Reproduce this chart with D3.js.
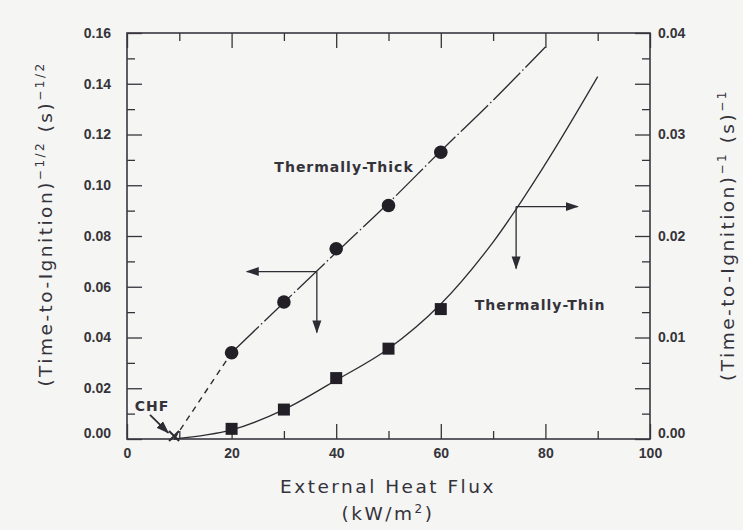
<!DOCTYPE html>
<html lang="en">
<head>
<meta charset="UTF-8">
<title>Time to ignition vs external heat flux</title>
<style>
  body { margin: 0; background: #f5f5f3; }
  svg { display: block; }
  .tick text { font-family: "Liberation Sans", Arial, sans-serif; font-weight: bold; font-size: 14px; fill: #36343a; }
  .tick line { stroke: #36343a; stroke-width: 1.3; }
  .axis-title { font-family: "DejaVu Sans", sans-serif; font-size: 18.5px; letter-spacing: 2.5px; fill: #34323a; }
  .note { font-family: "DejaVu Sans", sans-serif; font-weight: bold; font-size: 14px; letter-spacing: 1px; fill: #34323a; }
</style>
</head>
<body>
<svg id="chart" width="743" height="530"></svg>
<script src="https://d3js.org/d3.v7.min.js"></script>
<script>
const heatFlux = [20, 30, 40, 50, 60];
const thickValues = [0.034, 0.054, 0.075, 0.092, 0.113];       // (tig)^-1/2, left axis
const thinValues = [0.0010, 0.0029, 0.0060, 0.0089, 0.0128];   // (tig)^-1, right axis
const chf = 9;

// the two fitted curves
const thickFitFlux = [20, 30, 40, 50, 60, 70, 80];
const thickFitValues = [0.034, 0.0538, 0.0735, 0.093, 0.1135, 0.1335, 0.1545];
const thinFitFlux = [9, 20, 30, 40, 50, 60, 70, 80, 90];
const thinFitValues = [0, 0.0009, 0.0029, 0.0058, 0.0089, 0.0133, 0.0194, 0.0271, 0.0357];

// ticks
const xMajor = [0, 20, 40, 60, 80, 100];
const xMinor = [10, 30, 50, 70, 90];
const leftMajor = [0, 0.02, 0.04, 0.06, 0.08, 0.10, 0.12, 0.14, 0.16];
const leftMinor = [0.01, 0.03, 0.05, 0.07, 0.09, 0.11, 0.13, 0.15];
const rightLabels = [0, 0.01, 0.02, 0.03, 0.04];
const rightMajor = [0, 0.005, 0.01, 0.015, 0.02, 0.025, 0.03, 0.035, 0.04];
const rightMinor = [0.0025, 0.0075, 0.0125, 0.0175, 0.0225, 0.0275, 0.0325, 0.0375];

// annotation arrows
const thickArrow = [36.3, 0.066, 22.9, 0.042];   // corner x, corner y, left tip x, down tip y
const thinArrow = [74.4, 0.0229, 86.2, 0.0168];  // corner x, corner y, right tip x, down tip y
const chfArrow = [4.4, 0.0095, 7.9, 0.0024];

const svg = d3.select("#chart");
const ink = "#2e2c33";

const x = d3.scaleLinear().domain([0, 100]).range([127, 650]);
const yL = d3.scaleLinear().domain([0, 0.16]).range([439, 33]);
const yR = d3.scaleLinear().domain([0, 0.04]).range([439, 33]);

const fmt = d3.format(".2f");

// arrow head marker
svg.append("defs").append("marker")
    .attr("id", "head")
    .attr("markerUnits", "userSpaceOnUse")
    .attr("markerWidth", 14).attr("markerHeight", 10)
    .attr("viewBox", "0 -5 14 10")
    .attr("refX", 12).attr("refY", 0)
    .attr("orient", "auto")
  .append("path")
    .attr("d", "M0,-4.5L13,0L0,4.5Z")
    .attr("fill", ink);

// axes: majors carry the labels, minors are shorter
function addAxis(axis, transform, cls) {
    const g = svg.append("g").attr("class", cls).attr("transform", transform).call(axis);
    g.select(".domain").remove();
    return g;
}

addAxis(d3.axisBottom(x).tickValues(xMajor).tickSize(-15).tickPadding(9).tickFormat(d3.format("d")), "translate(0,439)", "xb");
addAxis(d3.axisBottom(x).tickValues(xMinor).tickSize(-8).tickFormat(""), "translate(0,439)", "xbm");
addAxis(d3.axisTop(x).tickValues(xMajor).tickSize(-15).tickFormat(""), "translate(0,33)", "xt");
addAxis(d3.axisTop(x).tickValues(xMinor).tickSize(-8).tickFormat(""), "translate(0,33)", "xtm");

addAxis(d3.axisLeft(yL).tickValues(leftMajor).tickSize(-15).tickPadding(16).tickFormat(fmt), "translate(127,0)", "yl");
addAxis(d3.axisLeft(yL).tickValues(leftMinor).tickSize(-8).tickFormat(""), "translate(127,0)", "ylm");

addAxis(d3.axisRight(yR).tickValues(rightMajor).tickSize(-15)
    .tickFormat(d => rightLabels.some(v => Math.abs(v - d) < 1e-9) ? fmt(d) : ""), "translate(650,0)", "yr")
    .selectAll("text").attr("x", 8);
addAxis(d3.axisRight(yR).tickValues(rightMinor).tickSize(-8).tickFormat(""), "translate(650,0)", "yrm");

// the zero labels sit a little higher than their tick
svg.selectAll(".yl .tick, .yr .tick").filter(d => d === 0).select("text").attr("dy", "-0.1em");

// frame
svg.append("rect")
    .attr("x", x(0)).attr("y", yL(0.16))
    .attr("width", x(100) - x(0)).attr("height", yL(0) - yL(0.16))
    .attr("fill", "none").attr("stroke", "#3a3640").attr("stroke-width", 1.6);

// thermally-thick: dashed extrapolation to CHF, then the fit
svg.append("line")
    .attr("x1", x(chf)).attr("y1", yL(0))
    .attr("x2", x(heatFlux[0])).attr("y2", yL(thickValues[0]))
    .attr("stroke", ink).attr("stroke-width", 1.4).attr("stroke-dasharray", "6,5");

const thickLine = d3.line().x(d => x(d[0])).y(d => yL(d[1])).curve(d3.curveCatmullRom);
svg.append("path")
    .datum(d3.zip(thickFitFlux, thickFitValues))
    .attr("d", thickLine)
    .attr("fill", "none").attr("stroke", ink).attr("stroke-width", 1.3)
    .attr("stroke-dasharray", "38,3,1.5,3");

// thermally-thin fit
const thinLine = d3.line().x(d => x(d[0])).y(d => yR(d[1])).curve(d3.curveCatmullRom);
svg.append("path")
    .datum(d3.zip(thinFitFlux, thinFitValues))
    .attr("d", thinLine)
    .attr("fill", "none").attr("stroke", ink).attr("stroke-width", 1.3);

// markers
svg.selectAll(".dot")
    .data(d3.zip(heatFlux, thickValues))
    .join("circle")
    .attr("class", "dot")
    .attr("cx", d => x(d[0])).attr("cy", d => yL(d[1]))
    .attr("r", 6.8).attr("fill", "#222026");

svg.selectAll(".sq")
    .data(d3.zip(heatFlux, thinValues))
    .join("rect")
    .attr("class", "sq")
    .attr("x", d => x(d[0]) - 6).attr("y", d => yR(d[1]) - 6)
    .attr("width", 12).attr("height", 12).attr("fill", "#222026");

// CHF cross
const cx = x(chf), cy = yL(0);
svg.append("path")
    .attr("d", `M${cx - 5},${cy - 8}L${cx + 5},${cy + 2}M${cx + 5},${cy - 8}L${cx - 5},${cy + 2}`)
    .attr("stroke", ink).attr("stroke-width", 2).attr("fill", "none");

// arrows
function arrow(x1, y1, x2, y2, w) {
    svg.append("line")
        .attr("x1", x1).attr("y1", y1).attr("x2", x2).attr("y2", y2)
        .attr("stroke", ink).attr("stroke-width", w || 1.3)
        .attr("marker-end", "url(#head)");
}
arrow(x(thickArrow[0]), yL(thickArrow[1]), x(thickArrow[2]), yL(thickArrow[1]));
arrow(x(thickArrow[0]), yL(thickArrow[1]), x(thickArrow[0]), yL(thickArrow[3]));
arrow(x(thinArrow[0]), yR(thinArrow[1]), x(thinArrow[2]), yR(thinArrow[1]));
arrow(x(thinArrow[0]), yR(thinArrow[1]), x(thinArrow[0]), yR(thinArrow[3]));
arrow(x(chfArrow[0]), yL(chfArrow[1]), x(chfArrow[2]), yL(chfArrow[3]), 1.8);

// notes
svg.append("text").attr("class", "note")
    .attr("x", x(41.5)).attr("y", yL(0.107) + 5)
    .attr("text-anchor", "middle").text("Thermally-Thick");
svg.append("text").attr("class", "note")
    .attr("x", x(79)).attr("y", yR(0.0132) + 5)
    .attr("text-anchor", "middle").text("Thermally-Thin");
svg.append("text").attr("class", "note")
    .attr("x", x(4.8)).attr("y", yL(0.013) + 5)
    .attr("text-anchor", "middle").text("CHF");

// axis titles
svg.append("text").attr("class", "axis-title")
    .attr("x", 388).attr("y", 493).attr("text-anchor", "middle")
    .text("External Heat Flux");
const xu = svg.append("text").attr("class", "axis-title")
    .attr("x", 388).attr("y", 520).attr("text-anchor", "middle");
xu.append("tspan").text("(kW/m");
xu.append("tspan").attr("dy", -7).attr("font-size", 12).text("2");
xu.append("tspan").attr("dy", 7).text(")");

function yTitle(px, py, sup) {
    const t = svg.append("text").attr("class", "axis-title")
        .attr("transform", `translate(${px},${py}) rotate(-90)`)
        .attr("text-anchor", "middle");
    t.append("tspan").text("(Time-to-Ignition)");
    t.append("tspan").attr("dy", -8).attr("font-size", 12).text(sup);
    t.append("tspan").attr("dy", 8).text(" (s)");
    t.append("tspan").attr("dy", -8).attr("font-size", 12).text(sup);
}
yTitle(52, 224, "\u22121/2");
yTitle(734, 235, "\u22121");
</script>
</body>
</html>
